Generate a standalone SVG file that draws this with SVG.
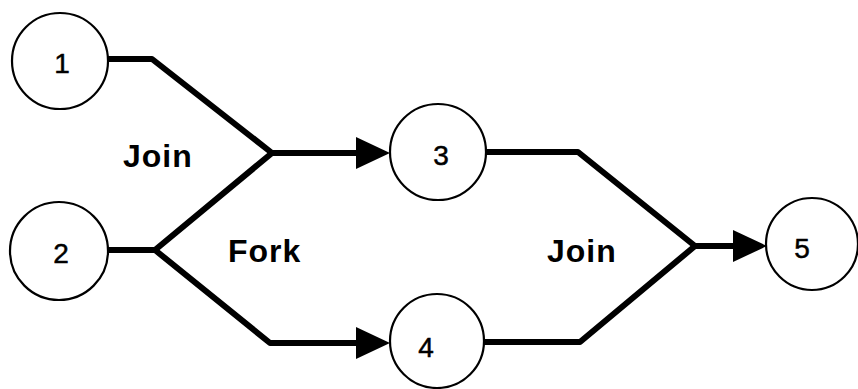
<svg xmlns="http://www.w3.org/2000/svg" width="858" height="389" viewBox="0 0 858 389">
  <style>
    .node circle { fill: #ffffff; stroke: #000000; stroke-width: 2.2; }
    .num { font-family: "Liberation Sans", Arial, sans-serif; font-size: 28px; fill: #000000; stroke: #000000; stroke-width: 0.5; text-anchor: middle; }
    .lbl { font-family: "Liberation Sans", Arial, sans-serif; font-size: 32px; font-weight: bold; fill: #000000; letter-spacing: 1px; }
    .edge { fill: none; stroke: #000000; stroke-width: 6; stroke-linejoin: round; stroke-linecap: butt; }
  </style>
  <defs>
    <marker id="arrow" markerUnits="userSpaceOnUse" markerWidth="36" markerHeight="34" refX="22" refY="16" orient="auto">
      <path d="M0,0 L34,16 L0,32 Z" fill="#000000"/>
    </marker>
  </defs>
  <rect width="858" height="389" fill="#ffffff"/>

  <g id="connectors">
    <path class="edge" d="M108,59 L152,59 L272,153 L378,153" marker-end="url(#arrow)"/>
    <path class="edge" d="M108,250 L155,250 L272,153"/>
    <path class="edge" d="M155,250 L270,343 L378,343" marker-end="url(#arrow)"/>
    <path class="edge" d="M486,152 L578,152 L695,246 L755,246" marker-end="url(#arrow)"/>
    <path class="edge" d="M484,342 L580,342 L695,246"/>
  </g>

  <g id="labels">
    <text class="lbl" x="123" y="167">Join</text>
    <text class="lbl" x="228" y="262">Fork</text>
    <text class="lbl" x="547" y="262">Join</text>
  </g>

  <g id="node1" class="node">
    <circle cx="60" cy="61" r="48"/>
    <text class="num" x="62" y="73">1</text>
  </g>
  <g id="node2" class="node">
    <circle cx="59" cy="251" r="49"/>
    <text class="num" x="61" y="263">2</text>
  </g>
  <g id="node3" class="node">
    <circle cx="438" cy="152" r="48"/>
    <text class="num" x="441" y="165">3</text>
  </g>
  <g id="node4" class="node">
    <circle cx="437" cy="341" r="47"/>
    <text class="num" x="426" y="357">4</text>
  </g>
  <g id="node5" class="node">
    <circle cx="812" cy="244" r="46"/>
    <text class="num" x="802" y="258">5</text>
  </g>
</svg>
